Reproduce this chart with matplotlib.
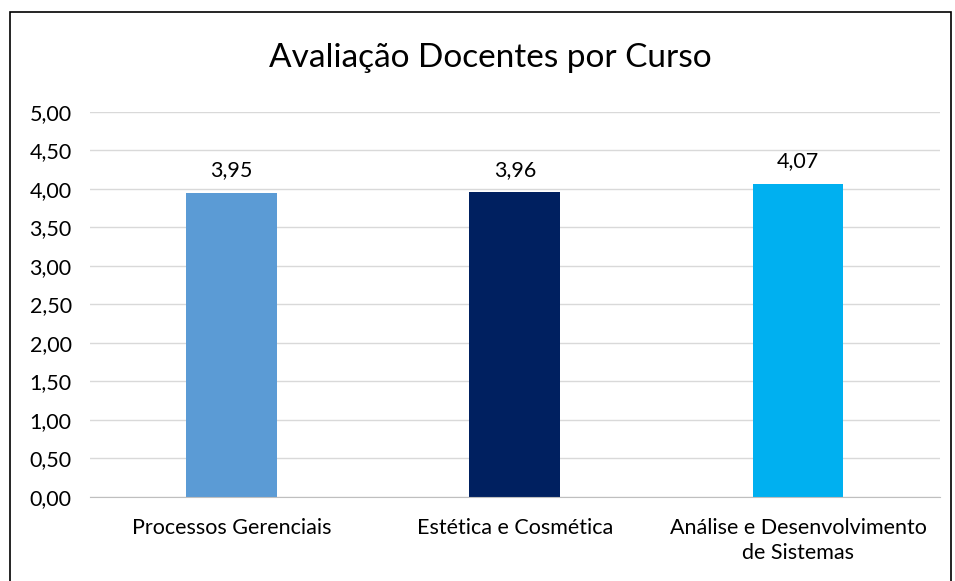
import matplotlib
matplotlib.use('Agg')
from matplotlib import pyplot as plt
from matplotlib.patches import Rectangle

courses = ['Processos Gerenciais', 'Estética e Cosmética',
           'Análise e Desenvolvimento\nde Sistemas']
scores = [3.95, 3.96, 4.07]
colors = ['#5B9BD5', '#002060', '#00B0F0']
yticks = [0.0, 0.5, 1.0, 1.5, 2.0, 2.5, 3.0, 3.5, 4.0, 4.5, 5.0]

plt.rcParams['font.family'] = ['Lato', 'DejaVu Sans']

fig = plt.figure(figsize=(9.55, 5.81), dpi=100)
ax = fig.add_axes([0.094, 0.1446, 0.89, 0.6627])

x = range(len(courses))
bars = ax.bar(x, scores, width=0.32, color=colors, zorder=3)

for bar, val in zip(bars, scores):
    ax.text(bar.get_x() + bar.get_width() / 2, val + 0.16,
            f'{val:.2f}'.replace('.', ','), ha='center', va='bottom',
            fontsize=15.5, color='#000000')

ax.set_xlim(-0.5, len(courses) - 0.5)
ax.set_ylim(0, 5)
ax.set_yticks(yticks)
ax.set_yticklabels([f'{v:.2f}'.replace('.', ',') for v in yticks], fontsize=15.5)
ax.set_xticks(list(x))
ax.set_xticklabels(courses, fontsize=15.5, linespacing=1.35)
ax.tick_params(axis='x', length=0, pad=15)
ax.tick_params(axis='y', length=0, pad=13)

ax.grid(axis='y', color='#D9D9D9', linewidth=1, zorder=0)
for side in ['top', 'right', 'left']:
    ax.spines[side].set_visible(False)
ax.spines['bottom'].set_color('#BFBFBF')
ax.spines['bottom'].set_zorder(4)

fig.text(0.513, 0.9, 'Avaliação Docentes por Curso', ha='center',
         va='center', fontsize=24)

fig.patches.append(Rectangle((10 / 955, -0.01), 941 / 955, 1 - 12 / 581 + 0.01,
                             transform=fig.transFigure, fill=False,
                             edgecolor='black', linewidth=1.2))

fig.savefig('out.png', dpi=100)
